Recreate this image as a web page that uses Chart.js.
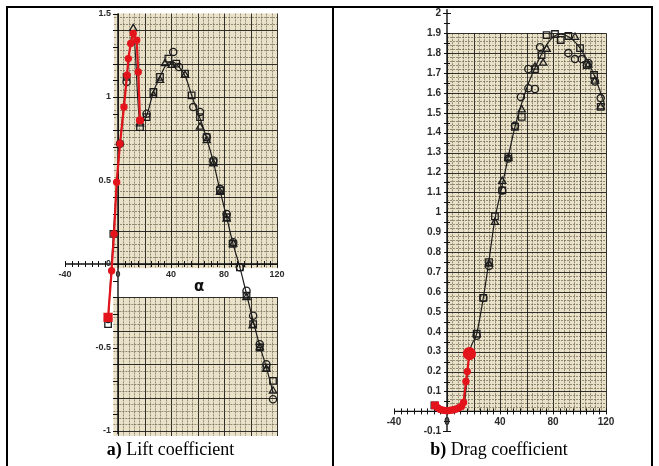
<!DOCTYPE html>
<html>
<head>
<meta charset="utf-8">
<title>Lift and drag coefficients</title>
<script src="https://cdn.jsdelivr.net/npm/chart.js"></script>
<style>
  html, body { margin: 0; padding: 0; background: #fff; }
  #page { position: relative; width: 659px; height: 466px; overflow: hidden; }
  .rule { position: absolute; background: #000; }
  canvas { position: absolute; left: 0; top: 0; }
  .caption { position: absolute; top: 439px; font: 18px/20px "Liberation Serif", "Times New Roman", serif; text-align: center; color: #000; white-space: nowrap; }
  .alpha { position: absolute; left: 194px; top: 278px; font: bold 15px/16px "DejaVu Sans", sans-serif; color: #111; }
</style>
</head>
<body>
<div id="page">
  <canvas id="liftChart" width="659" height="466"></canvas>
  <canvas id="dragChart" width="659" height="466"></canvas>
  <div class="alpha">α</div>
  <div class="caption" style="left:8px;width:325px"><b>a)</b> Lift coefficient</div>
  <div class="caption" style="left:334px;width:330px"><b>b)</b> Drag coefficient</div>
  <div class="rule" style="left:6px;top:6px;width:647px;height:2px"></div>
  <div class="rule" style="left:6px;top:6px;width:2px;height:460px"></div>
  <div class="rule" style="left:332px;top:6px;width:2px;height:460px"></div>
  <div class="rule" style="left:651px;top:6px;width:2px;height:460px"></div>
</div>
<script>
// tick labels
const alphaTicks = [-40, 0, 40, 80, 120];
const liftTicks = [1.5, 1, 0.5, 0, -0.5, -1];
const dragTicks = [2, 1.9, 1.8, 1.7, 1.6, 1.5, 1.4, 1.3, 1.2, 1.1, 1, 0.9, 0.8, 0.7, 0.6, 0.5, 0.4, 0.3, 0.2, 0.1, -0.1];

// lift: faired curve through the tunnel data
const liftFitAlpha = [-7.5, -3.5, 1.5, 6.5, 11.5, 16.6, 21.6, 26.7, 31.7, 36, 41, 46, 51, 56, 62, 67, 72, 77, 82, 86.5, 92, 97, 102, 107, 112, 117];
const liftFitCl = [-0.35, 0.18, 0.72, 1.11, 1.4, 0.84, 0.89, 1.03, 1.12, 1.19, 1.21, 1.18, 1.12, 1.0, 0.87, 0.75, 0.61, 0.44, 0.28, 0.13, -0.02, -0.18, -0.34, -0.49, -0.62, -0.77];

// lift: tunnel runs (square / circle / triangle symbols)
const liftSquareAlpha = [-7.5, -3.5, 6.5, 16.6, 21.6, 26.7, 31.7, 38, 44, 50.6, 55.6, 61.9, 66.9, 72, 77, 82, 86.5, 92, 97, 102, 107, 112, 117];
const liftSquareCl = [-0.36, 0.18, 1.12, 0.82, 0.88, 1.03, 1.12, 1.23, 1.2, 1.14, 1.01, 0.88, 0.76, 0.61, 0.44, 0.28, 0.12, -0.02, -0.19, -0.36, -0.5, -0.62, -0.7];
const liftCircleAlpha = [-7.5, 1.5, 6.5, 21.6, 41.7, 46, 56.8, 61.9, 67, 72, 77, 82, 87, 92, 97, 102, 107, 112, 117];
const liftCircleCl = [-0.33, 0.72, 1.09, 0.9, 1.27, 1.18, 0.94, 0.91, 0.76, 0.62, 0.45, 0.3, 0.13, -0.02, -0.16, -0.31, -0.48, -0.6, -0.81];
const liftTriangleAlpha = [11.5, 16.6, 26.7, 31.7, 35.5, 40.5, 50.6, 61.9, 67, 72, 77, 82, 87, 97, 101.6, 107, 112, 117];
const liftTriangleCl = [1.41, 0.84, 1.01, 1.1, 1.2, 1.19, 1.13, 0.82, 0.74, 0.6, 0.43, 0.27, 0.12, -0.2, -0.37, -0.5, -0.63, -0.76];

// lift: computed
const liftCalcAlpha = [-7.5, -4.8, -3, -1, 1.5, 4.5, 6.8, 7.8, 9.6, 11.5, 14.1, 15.3, 16.6];
const liftCalcCl = [-0.32, -0.04, 0.18, 0.49, 0.72, 0.94, 1.13, 1.23, 1.32, 1.38, 1.34, 1.15, 0.86];

// drag: faired curve
const dragFitAlpha = [-9.5, -5, 0, 5, 10, 13, 16.9, 22.4, 27.4, 31.5, 36, 41.5, 46.3, 51.3, 56, 61, 66, 71, 76, 81, 86, 91, 96, 101, 106, 111, 116, 119];
const dragFitCd = [0.03, 0.015, 0.01, 0.012, 0.02, 0.04, 0.29, 0.39, 0.57, 0.75, 0.96, 1.13, 1.28, 1.43, 1.54, 1.64, 1.72, 1.79, 1.85, 1.885, 1.895, 1.885, 1.86, 1.82, 1.76, 1.69, 1.6, 1.54];

// drag: tunnel runs
const dragSquareAlpha = [-9.5, 22.4, 27.4, 31.7, 36.2, 41.7, 46.3, 51.3, 56.4, 66.4, 71.4, 75.2, 81.5, 85.8, 91.6, 100.4, 105.4, 111, 116];
const dragSquareCd = [0.03, 0.39, 0.57, 0.75, 0.98, 1.11, 1.28, 1.43, 1.48, 1.72, 1.79, 1.89, 1.896, 1.866, 1.886, 1.825, 1.74, 1.69, 1.53];
const dragCircleAlpha = [16.9, 22.4, 27.4, 31.7, 41.7, 46.3, 51.3, 55.8, 61.4, 66.4, 61.4, 70.2, 91.6, 96.6, 101.7, 106.7, 111.7, 116];
const dragCircleCd = [0.29, 0.38, 0.57, 0.73, 1.11, 1.27, 1.435, 1.58, 1.624, 1.62, 1.72, 1.83, 1.8, 1.77, 1.77, 1.75, 1.657, 1.574];
const dragTriangleAlpha = [31.7, 36.2, 41.7, 46.3, 56.4, 66.4, 72.6, 75.2, 96.6, 106.7, 111.7, 116];
const dragTriangleCd = [0.74, 0.95, 1.156, 1.27, 1.515, 1.73, 1.75, 1.82, 1.88, 1.74, 1.66, 1.53];

// drag: computed
const dragCalcAlpha = [-9, -7, -5, -3, -1, 1, 3, 5, 7, 9, 11, 12.5, 14.3, 15.3, 16.9];
const dragCalcCd = [0.03, 0.018, 0.01, 0.006, 0.004, 0.004, 0.006, 0.008, 0.012, 0.018, 0.026, 0.045, 0.15, 0.2, 0.29];

const RED = '#e3141b';
const INK = '#1c1c1c';

const pts = (xs, ys) => xs.map((x, i) => ({ x, y: ys[i] }));

function symbols(xs, ys, style, r) {
  return {
    data: pts(xs, ys), showLine: false, pointStyle: style, pointRadius: r,
    borderColor: INK, backgroundColor: 'rgba(0,0,0,0)', borderWidth: 1.3, clip: false
  };
}

// calc = [alpha, value, radius of the last computed point]
function datasets(calc, fit, squares, circles, triangles, firstRadius) {
  const n = calc[0].length;
  const styles = calc[0].map((_, i) => i === 0 ? 'rect' : 'circle');
  const radii = calc[0].map((_, i) => i === 0 ? firstRadius : (i === n - 1 ? calc[2] : 2.6));
  return [
    {
      data: pts(calc[0], calc[1]), showLine: true, borderColor: RED, borderWidth: 2.2,
      pointStyle: styles, pointRadius: radii, pointBackgroundColor: RED, pointBorderColor: RED, clip: false
    },
    symbols(squares[0], squares[1], 'rect', 4.6),
    symbols(circles[0], circles[1], 'circle', 3.6),
    symbols(triangles[0], triangles[1], 'triangle', 4.2),
    {
      data: pts(fit[0], fit[1]), showLine: true, borderColor: INK, borderWidth: 1.2,
      pointRadius: 0, cubicInterpolationMode: 'monotone', clip: false
    }
  ];
}

// index helpers that tolerate float steps
const first = (v, s) => Math.ceil(v / s - 1e-6);
const last = (v, s) => Math.floor(v / s + 1e-6);

function rule(ctx, vertical, p, a, b, major) {
  ctx.beginPath();
  ctx.lineWidth = 1;
  ctx.strokeStyle = major ? 'rgba(30,28,24,0.9)' : 'rgba(95,85,65,0.62)';
  ctx.setLineDash(major ? [] : [2, 1]);
  const q = Math.round(p) + 0.5;
  if (vertical) { ctx.moveTo(q, a); ctx.lineTo(q, b); }
  else { ctx.moveTo(a, q); ctx.lineTo(b, q); }
  ctx.stroke();
}

// graph paper sheets and the hand-drawn axes behind the data
const graphPaper = {
  id: 'graphPaper',
  beforeDatasetsDraw(chart, args, o) {
    const ctx = chart.ctx;
    const X = v => chart.scales.x.getPixelForValue(v);
    const Y = v => chart.scales.y.getPixelForValue(v);
    ctx.save();
    for (const s of o.sheets) {
      const l = X(s.x0), r = X(s.x1), t = Y(s.y1), b = Y(s.y0);
      ctx.fillStyle = '#e9e1c8';
      ctx.fillRect(l, t, r - l, b - t);
      const rx = Math.round(o.majorX / o.minorX), ry = Math.round(o.majorY / o.minorY);
      for (let i = first(s.x0, o.minorX); i <= last(s.x1, o.minorX); i++) {
        rule(ctx, true, X(i * o.minorX), t, b, ((i % rx) + rx) % rx === 0);
      }
      for (let i = first(s.y0, o.minorY); i <= last(s.y1, o.minorY); i++) {
        rule(ctx, false, Y(i * o.minorY), l, r, ((i % ry) + ry) % ry === 0);
      }
    }
    ctx.setLineDash([]);

    // axes through the origin
    const x0 = X(0), y0 = Y(0);
    ctx.strokeStyle = '#111';
    ctx.lineWidth = 1.4;
    ctx.beginPath();
    ctx.moveTo(X(o.xFrom), y0); ctx.lineTo(X(o.xTo), y0);
    ctx.moveTo(x0, Y(o.yTo)); ctx.lineTo(x0, Y(o.yFrom));
    ctx.stroke();
    ctx.lineWidth = 1;
    ctx.beginPath();
    for (let i = first(o.xFrom, 5); i <= last(o.xTo, 5); i++) {
      const p = Math.round(X(i * 5)) + 0.5;
      ctx.moveTo(p, y0 - 3); ctx.lineTo(p, y0 + 3);
    }
    for (let i = first(o.yFrom, o.yStep); i <= last(o.yTo, o.yStep); i++) {
      const p = Math.round(Y(i * o.yStep)) + 0.5;
      ctx.moveTo(x0 - o.tickOut, p); ctx.lineTo(x0 + o.tickIn, p);
    }
    for (const c of o.caps) {
      const p = Math.round(Y(c)) + 0.5;
      ctx.moveTo(x0 - 4, p); ctx.lineTo(x0 + 4, p);
    }
    ctx.stroke();

    ctx.fillStyle = '#2a2a2a';
    ctx.font = o.font;
    ctx.textAlign = 'right';
    ctx.textBaseline = 'middle';
    for (const v of o.yLabels) ctx.fillText(String(v), x0 - o.labelGap, Y(v));
    ctx.textAlign = 'center';
    ctx.textBaseline = 'top';
    for (const v of alphaTicks) ctx.fillText(String(v), X(v), y0 + 6);
    ctx.restore();
  }
};

function makeChart(id, sets, yMin, yMax, padding, paper) {
  return new Chart(document.getElementById(id), {
    type: 'scatter',
    data: { datasets: sets },
    options: {
      responsive: false,
      animation: false,
      devicePixelRatio: 1,
      events: [],
      layout: { padding },
      scales: {
        x: { type: 'linear', display: false, min: -40, max: 120 },
        y: { type: 'linear', display: false, min: yMin, max: yMax }
      },
      plugins: { legend: { display: false }, tooltip: { enabled: false }, graphPaper: paper }
    },
    plugins: [graphPaper]
  });
}

makeChart('liftChart',
  datasets([liftCalcAlpha, liftCalcCl, 3], [liftFitAlpha, liftFitCl],
    [liftSquareAlpha, liftSquareCl], [liftCircleAlpha, liftCircleCl], [liftTriangleAlpha, liftTriangleCl], 5),
  -1, 1.5, { left: 65, right: 382, top: 13.5, bottom: 35 },
  {
    sheets: [{ x0: -3, x1: 120, y0: -0.025, y1: 1.5 }, { x0: -3.5, x1: 120.5, y0: -1.03, y1: -0.2 }],
    minorX: 4, majorX: 20, minorY: 0.04, majorY: 0.2,
    xFrom: -40, xTo: 120, yFrom: -1.02, yTo: 1.5, yStep: 0.1, tickOut: 5, tickIn: 0, caps: [],
    yLabels: liftTicks, labelGap: 7, font: 'bold 9px "Liberation Sans", Arial, sans-serif'
  });

makeChart('dragChart',
  datasets([dragCalcAlpha, dragCalcCd, 5.5], [dragFitAlpha, dragFitCd],
    [dragSquareAlpha, dragSquareCd], [dragCircleAlpha, dragCircleCd], [dragTriangleAlpha, dragTriangleCd], 4),
  -0.1, 2, { left: 394, right: 53, top: 13.3, bottom: 34.7 },
  {
    sheets: [{ x0: 0, x1: 120, y0: 0, y1: 1.9 }],
    minorX: 4, majorX: 20, minorY: 0.02, majorY: 0.1,
    xFrom: -40, xTo: 120, yFrom: -0.1, yTo: 2.02, yStep: 0.05, tickOut: 3, tickIn: 3, caps: [2, -0.1],
    yLabels: dragTicks, labelGap: 6, font: 'bold 10px "Liberation Sans", Arial, sans-serif'
  });
</script>
</body>
</html>
